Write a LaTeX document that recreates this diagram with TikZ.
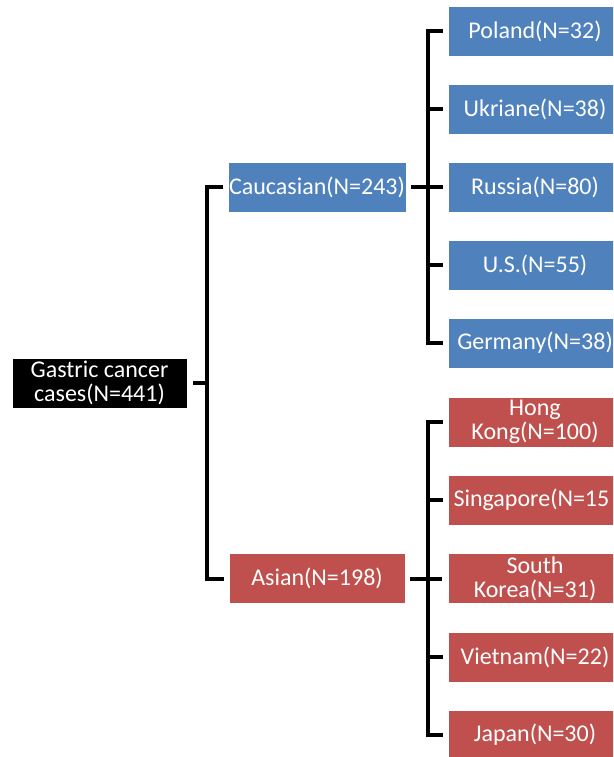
\documentclass[tikz,border=0pt]{standalone}
\usepackage{fontspec}
\setmainfont{Carlito}
\definecolor{cblue}{HTML}{4F81BD}
\definecolor{cred}{HTML}{C0504D}
\begin{document}
\begin{tikzpicture}[x=1pt,y=-1pt,
  box/.style={draw=white,line width=0.6pt,text=white,minimum height=50pt,inner sep=1pt,align=center,
    font=\fontsize{24}{24}\selectfont},
  rootbox/.style={box,fill=black,minimum width=175pt},
  midbox/.style={box,minimum width=176pt},
  leafbox/.style={box,minimum width=174pt},
  conn/.style={line width=4pt,line join=miter,line cap=rect}]
\clip (0,0) rectangle (613,757);
\fill[white] (0,0) rectangle (613,757);
\node[rootbox] (root) at (99.5,383) {Gastric cancer\\cases(N=441)};
\node[midbox,fill=cblue] (cau) at (317,187) {Caucasian(N=243)};
\node[midbox,fill=cred] (asi) at (317,578.5) {Asian(N=198)};
\node[leafbox,fill=cblue] (pol) at (535,31) {Poland(N=32)};
\node[leafbox,fill=cblue] (ukr) at (535,109) {Ukriane(N=38)};
\node[leafbox,fill=cblue] (rus) at (535,187) {Russia(N=80)};
\node[leafbox,fill=cblue] (us) at (535,265) {U.S.(N=55)};
\node[leafbox,fill=cblue] (ger) at (535,343) {Germany(N=38)};
\node[leafbox,fill=cred] (hk) at (535,422) {Hong\\Kong(N=100)};
\node[leafbox,fill=cred,text width=163pt,align=left] (sin) at (535,500) {Singapore(N=15};
\node[leafbox,fill=cred] (sk) at (535,578.5) {South\\Korea(N=31)};
\node[leafbox,fill=cred] (vie) at (535,657) {Vietnam(N=22)};
\node[leafbox,fill=cred] (jap) at (535,735) {Japan(N=30)};
% root bracket
\draw[conn,line cap=butt] ([xshift=6pt]root.east) -- ++(15,0);
\draw[conn,line cap=butt] ([xshift=-5pt]cau.west) -- ++(-16,0) |- ([xshift=-5pt]asi.west);
% caucasian bracket
\draw[conn,line cap=butt] ([xshift=5pt]cau.east) -- ++(32,0);
\draw[conn,line cap=butt] ([xshift=-5pt]pol.west) -- ++(-15,0) |- ([xshift=-5pt]ger.west);
\draw[conn,line cap=butt] ([xshift=-5pt]ukr.west) -- ++(-15,0);
\draw[conn,line cap=butt] ([xshift=-5pt]us.west) -- ++(-15,0);
% asian bracket
\draw[conn,line cap=butt] ([xshift=5pt]asi.east) -- ++(32,0);
\draw[conn,line cap=butt] ([xshift=-5pt]hk.west) -- ++(-15,0) |- ([xshift=-5pt]jap.west);
\draw[conn,line cap=butt] ([xshift=-5pt]sin.west) -- ++(-15,0);
\draw[conn,line cap=butt] ([xshift=-5pt]vie.west) -- ++(-15,0);
\end{tikzpicture}
\end{document}
